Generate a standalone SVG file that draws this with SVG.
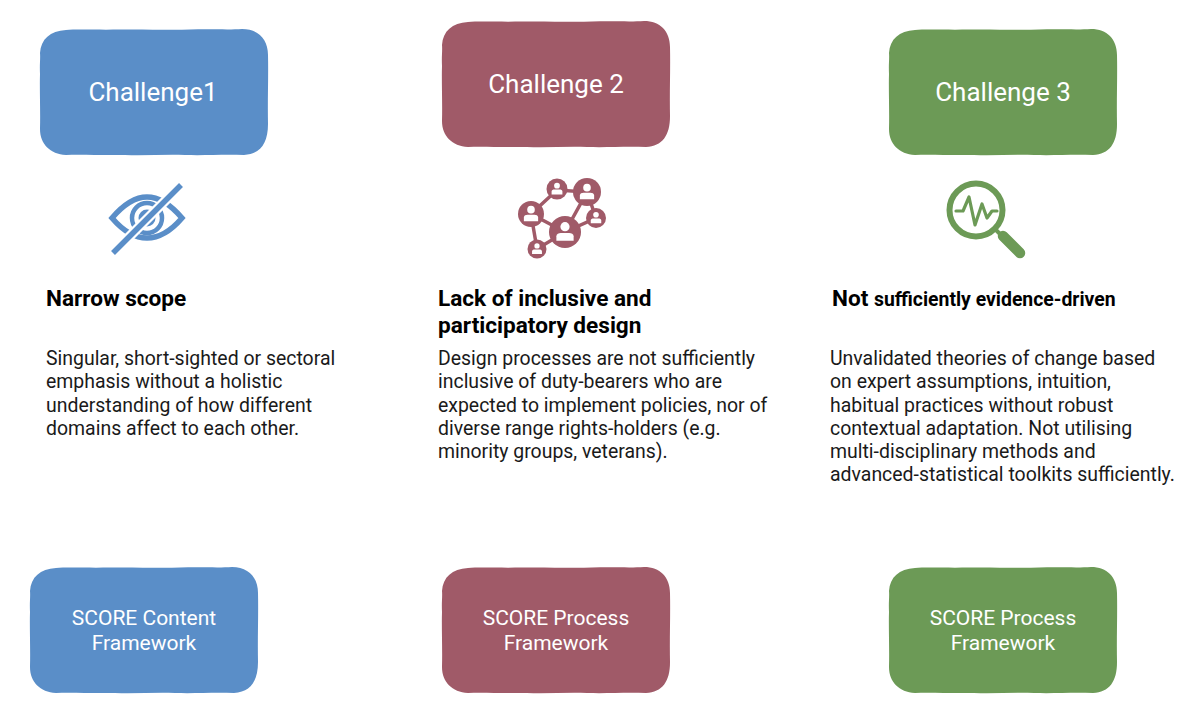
<svg xmlns="http://www.w3.org/2000/svg" width="1200" height="724" viewBox="0 0 1200 724">
<defs>
<path id="sk" d="M26 1 C36 0 60 1 80 0.5 C105 0 130 1.500 150 0.500 C175 0 190 1 202 0 C218 0 228 10 228 26 C228.500 50 227.500 70 228 95 C228 115 220 125 204 126 C180 125.500 165 126.500 145 126 C125 125 105 127 85 126 C60 126.500 40 125 26 126 C10 125 0 115 0 100 C0.500 80 -0.500 60 0 45 C-0.500 35 0.500 30 0 24 C1 10 10 2 26 1Z"/>
<g id="person"><circle cx="0" cy="-4.6" r="4"/><path d="M-7.5 7.5 V3.6 C-7.5 1.6 -5.500 0.8 -3.6 0.8 H3.6 C5.500 0.8 7.5 1.6 7.5 3.6 V7.5Z"/></g>
</defs>
<style>
text{font-family:Roboto,"Liberation Sans",sans-serif}
.w{fill:#fff;text-anchor:middle}
.big{font-size:26px}
.sm{font-size:21px}
.h{font-size:22.6px;font-weight:700;fill:#000}
.b{font-size:19.45px;fill:#1a1a1a}
.blue{fill:#5a8ec8}.red{fill:#a05a68}.green{fill:#6c9a56}
.pw{fill:#fff}
</style>
<g id="challenge1"><use href="#sk" x="40" y="29" class="blue"/><text class="w big" x="153" y="101">Challenge1</text></g>
<g id="challenge2"><use href="#sk" x="442" y="21" class="red"/><text class="w big" x="556" y="93">Challenge 2</text></g>
<g id="challenge3"><use href="#sk" x="889" y="29" class="green"/><text class="w big" x="1003" y="101">Challenge 3</text></g>

<g id="icon-eye" fill="none" stroke="#5a8ec8">
<path stroke-width="5.500" stroke-linejoin="miter" d="M112 218 C124 204 136 197 147 197 C158 197 170 204 182 218 C170 232 158 238 147 238 C136 238 124 232 112 218Z"/>
<circle cx="147" cy="218" r="15" stroke-width="4.500"/>
<circle cx="147" cy="218" r="8.500" fill="#5a8ec8" stroke="none"/>
<path stroke="#fff" stroke-width="10" d="M116 250 L178 188"/>
<path stroke-width="5.500" d="M113 253 L181 185"/>
</g>

<g id="icon-network">
<g stroke="#a05a68" stroke-width="3.500" fill="none"><path d="M531 214 L557 190 L587 192 L565 232 L531 214 L537 249 L565 232 L596 218 L587 192"/></g>
<g class="red"><circle cx="557" cy="189" r="10.500"/><circle cx="587" cy="192" r="14"/><circle cx="596" cy="218" r="10"/><circle cx="531" cy="214" r="13"/><circle cx="565" cy="232" r="16"/><circle cx="537" cy="249" r="9.500"/></g>
<g class="pw">
<use href="#person" transform="translate(557 189) scale(.72)"/>
<use href="#person" transform="translate(587 192) scale(.95)"/>
<use href="#person" transform="translate(596 218) scale(.7)"/>
<use href="#person" transform="translate(531 214) scale(.95)"/>
<use href="#person" transform="translate(565 232) scale(1.15)"/>
<use href="#person" transform="translate(537 249) scale(.66)"/>
</g>
</g>

<g id="icon-search" fill="none" stroke="#6c9a56">
<circle cx="976" cy="210" r="26.500" stroke-width="6"/>
<path stroke-width="3.200" stroke-linecap="round" stroke-linejoin="round" d="M956 211 H963 L969 197 L975 225 L982 204 L987 218 L992 211 H997"/>
<path stroke-width="4" d="M996 230 L1002 236"/>
<path stroke-width="10.500" stroke-linecap="round" d="M1003 236 L1020 253"/>
</g>

<g id="col1">
<text class="h" x="46" y="306">Narrow scope</text>
<text class="b"><tspan x="46" y="365">Singular, short-sighted or sectoral</tspan><tspan x="46" y="388">emphasis without a holistic</tspan><tspan x="46" y="412">understanding of how different</tspan><tspan x="46" y="435">domains affect to each other.</tspan></text>
</g>
<g id="col2">
<text class="h"><tspan x="438" y="306">Lack of inclusive and</tspan><tspan x="438" y="333">participatory design</tspan></text>
<text class="b"><tspan x="438" y="365">Design processes are not sufficiently</tspan><tspan x="438" y="388">inclusive of duty-bearers who are</tspan><tspan x="438" y="412">expected to implement policies, nor of</tspan><tspan x="438" y="435">diverse range rights-holders (e.g.</tspan><tspan x="438" y="458">minority groups, veterans).</tspan></text>
</g>
<g id="col3">
<text class="h" x="832" y="306">Not <tspan font-size="19.400">sufficiently evidence-driven</tspan></text>
<text class="b"><tspan x="830" y="365">Unvalidated theories of change based</tspan><tspan x="830" y="388">on expert assumptions, intuition,</tspan><tspan x="830" y="412">habitual practices without robust</tspan><tspan x="830" y="435">contextual adaptation. Not utilising</tspan><tspan x="830" y="458">multi-disciplinary methods and</tspan><tspan x="830" y="481">advanced-statistical toolkits sufficiently.</tspan></text>
</g>

<g id="framework1"><use href="#sk" x="30" y="567" class="blue"/><text class="w sm" x="144" y="625">SCORE Content</text><text class="w sm" x="144" y="650">Framework</text></g>
<g id="framework2"><use href="#sk" x="442" y="567" class="red"/><text class="w sm" x="556" y="625">SCORE Process</text><text class="w sm" x="556" y="650">Framework</text></g>
<g id="framework3"><use href="#sk" x="889" y="567" class="green"/><text class="w sm" x="1003" y="625">SCORE Process</text><text class="w sm" x="1003" y="650">Framework</text></g>
<g id="connectors"></g>
</svg>
